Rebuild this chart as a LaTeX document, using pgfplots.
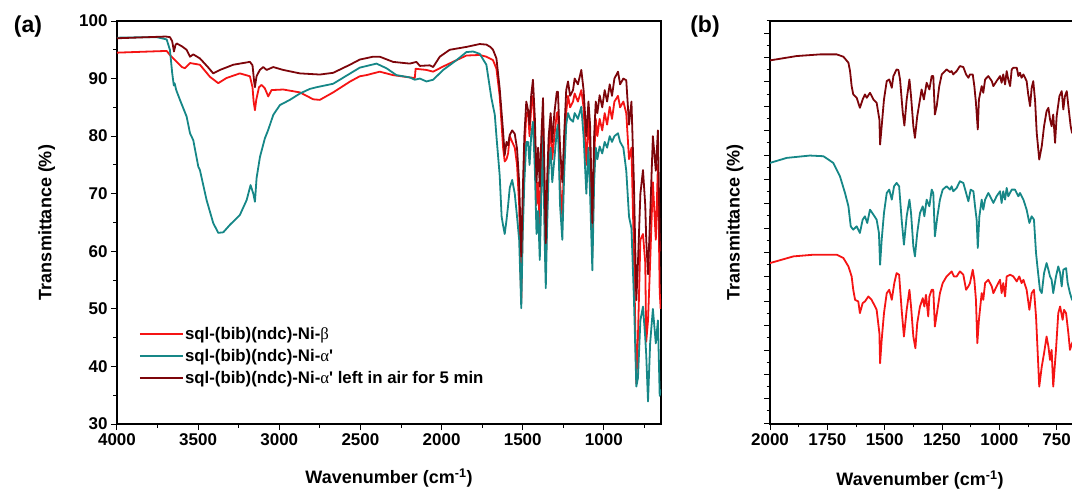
\documentclass[border=0pt]{standalone}
\usepackage{fontspec}
\setmainfont{Liberation Sans}
\newfontfamily\greek{Liberation Serif}
\usepackage{pgfplots}
\pgfplotsset{compat=1.18}
\definecolor{cred}{RGB}{245,20,20}
\definecolor{cteal}{RGB}{22,135,135}
\definecolor{cmaroon}{RGB}{125,5,10}
\pgfplotsset{
  myaxis/.style={
    scale only axis,
    x dir=reverse,
    axis line style={line width=1.2bp},
    tick style={line width=1bp, black},
    tick align=outside,
    major tick length=6bp,
    minor tick length=3.5bp,
    xtick pos=left, ytick pos=left,
    tick label style={font=\fontsize{17bp}{17bp}\selectfont\bfseries},
    label style={font=\fontsize{18bp}{18bp}\selectfont\bfseries},
    /pgf/number format/assume math mode=true,
    /pgf/number format/1000 sep={},
    every axis plot/.append style={line width=1.8bp, no markers, line join=round},
  }
}
\begin{document}
\begin{tikzpicture}
\useasboundingbox (0,0) rectangle (1072bp,492bp);
% ---------------- panel (a)
\begin{axis}[myaxis,
  at={(117bp,68bp)}, anchor=south west,
  width=544bp, height=403bp,
  xmin=648, xmax=4000, ymin=30, ymax=100,
  xtick={1000,1500,...,4000}, minor xtick={750,1250,...,3750},
  ytick={30,40,...,100}, minor ytick={35,45,...,95},
  xlabel={Wavenumber (cm\textsuperscript{-1})},
  ylabel={Transmittance (\%)},
  xlabel style={at={(axis description cs:0.5,-0.134)}, anchor=center},
  ylabel style={at={(axis description cs:-0.129,0.5)}, anchor=center},
  legend style={at={(axis description cs:0.04,0.245)}, anchor=north west, draw=none, fill=none,
    font=\fontsize{16.8bp}{16.8bp}\selectfont\bfseries, row sep=5.3bp, inner sep=0pt,
    nodes={inner sep=1.5bp}},
  legend cell align=left,
  legend image code/.code={\draw[#1, line width=1.6bp] (0bp,0bp) -- (43bp,0bp);},
]
\addplot[cred] coordinates {
(4000,94.5)(3800,94.7)(3694,94.8)(3674,94.1)(3632,92.9)(3600,92.0)(3581,91.8)(3550,92.7)(3489,92.4)
(3427,90.3)(3376,89.2)(3325,90.1)(3243,90.9)(3181,90.4)(3165,88.5)(3158,86.0)(3150,84.5)(3142,86.3)
(3125,88.5)(3109,88.9)(3089,88.3)(3068,86.9)(3048,88.0)(2976,88.1)(2873,87.6)(2791,86.4)(2750,86.3)
(2668,87.6)(2563,89.5)(2504,90.4)(2463,90.6)(2381,91.2)(2299,90.6)(2196,90.2)(2165,90.1)(2160,91.7)
(2093,91.5)(2052,91.2)(1990,92.1)(1908,93.2)(1847,94.0)(1765,94.1)(1724,93.8)(1683,93.2)(1662,91.7)
(1642,87)(1630,82)(1621,78)(1611,75.6)(1600,76)(1590,77)(1580,80)(1565,79)(1549,78)(1535,75)(1522,68)
(1509,51)(1500,66)(1490,77)(1478,84)(1467,84.2)(1458,80)(1448,85)(1437,87)(1425,80)(1415,68)(1405,72)
(1395,64)(1385,76)(1375,83)(1365,68)(1358,57)(1350,68)(1340,77)(1328,82)(1318,76)(1305,80)(1290,84)
(1283,84.2)(1270,72)(1256,66)(1245,76)(1232,84.2)(1221,87)(1208,85)(1190,86)(1180,87.4)(1160,86)
(1139,88)(1125,85)(1108,75)(1095,83)(1085,78)(1071,60)(1060,76)(1050,83)(1040,80)(1026,83)(1010,81)
(995,84)(980,82)(964,85.1)(950,83)(935,86)(913,87)(900,85)(880,86)(862,84)(845,76)(830,78)(815,60)
(800,37)(790,45)(775,62)(759,63)(745,58)(739,44.3)(728,48)(715,58)(698,72)(680,62)(667,75)(656,53)(650,50)
};
\addlegendentry{sql-(bib)(ndc)-Ni-{\greek\mdseries β}}
\addplot[cteal] coordinates {
(4000,97.1)(3800,97.2)(3756,97.2)(3694,96.8)(3674,95.0)(3660,91)(3650,88.8)(3645,89.2)(3635,88)
(3612,86.3)(3571,83.4)(3550,80.5)(3530,79.3)(3499,74.7)(3489,74.1)(3448,68.9)(3407,64.9)(3376,63.2)
(3345,63.3)(3304,64.6)(3243,66.3)(3201,68.9)(3177,71.5)(3160,70)(3150,68.6)(3140,72.7)(3119,76.4)
(3089,79.6)(3068,81.1)(3037,83.7)(2996,85.4)(2935,86.3)(2873,87.4)(2812,88.2)(2770,88.5)(2668,89.1)
(2504,91.9)(2401,92.6)(2340,91.8)(2278,90.6)(2196,90.2)(2165,89.8)(2134,90.0)(2093,89.5)(2052,89.8)
(1990,91.5)(1908,93.2)(1847,94.6)(1806,94.7)(1765,94.3)(1724,92.4)(1693,86.6)(1672,83.7)(1662,80)
(1642,73.2)(1630,66)(1621,64.5)(1611,63)(1600,65.4)(1590,68)(1580,71)(1565,72.4)(1549,70)(1535,66)
(1522,62)(1509,50.1)(1500,63)(1490,72)(1478,79)(1467,79.0)(1458,75)(1448,80)(1437,82.5)(1425,74)
(1415,63)(1405,67)(1395,58.5)(1385,70)(1375,80)(1365,62)(1358,53.6)(1350,64)(1340,74)(1328,78)
(1318,72)(1305,76)(1290,81)(1283,82)(1270,68)(1256,62)(1245,73)(1232,82)(1221,84)(1208,83)(1190,82.5)
(1180,84)(1160,83)(1139,85.1)(1125,80)(1108,70)(1095,78)(1085,70)(1071,56.7)(1060,72)(1050,78)
(1040,76)(1026,78.2)(1010,77)(995,79)(980,78)(964,80)(950,79)(935,80)(913,80.5)(900,79)(880,78)
(862,74)(845,66)(830,64)(815,52)(800,36.5)(790,38)(775,48)(759,50.4)(745,45)(739,42)(728,33.9)
(715,44)(698,50)(680,44)(667,48)(656,34.9)(650,36)
};
\addlegendentry{sql-(bib)(ndc)-Ni-{\greek\mdseries α}\textquotesingle}
\addplot[cmaroon] coordinates {
(4000,97.0)(3900,97.1)(3800,97.2)(3700,97.3)(3674,97.2)(3660,96.5)(3649,94.7)(3640,95.8)(3632,96.1)
(3600,95.6)(3571,95.0)(3550,93.8)(3530,94.2)(3489,93.5)(3440,92.0)(3407,90.9)(3366,91.5)(3320,92.0)
(3284,92.4)(3181,92.9)(3165,92.3)(3155,89.5)(3150,88.5)(3145,89.5)(3140,90.4)(3120,91.5)(3099,92.0)
(3078,91.5)(3037,92.0)(2976,91.5)(2873,90.9)(2750,90.7)(2668,91.0)(2565,92.4)(2504,93.3)(2422,93.8)
(2381,93.8)(2299,92.9)(2196,92.6)(2155,92.9)(2134,92.2)(2073,92.3)(2052,92.0)(2011,93.8)(1950,95.0)
(1847,95.5)(1765,96.0)(1724,95.9)(1700,95.5)(1683,95.0)(1662,93.5)
(1642,88.3)(1630,84)(1621,80.8)(1611,76.7)(1600,79)(1590,78.4)(1580,80.2)(1565,81)(1549,80.4)
(1535,77.8)(1522,72)(1509,59.1)(1500,70)(1490,80)(1478,86.0)(1467,84.5)(1458,82)(1448,87)(1437,89.8)
(1425,83)(1415,72)(1405,78)(1395,71.2)(1385,80)(1375,86.6)(1365,72)(1358,61.4)(1350,72)(1340,80)
(1328,84)(1318,79)(1305,84)(1290,87.7)(1283,87.7)(1270,78)(1256,72)(1245,80)(1232,88)(1221,89.5)
(1208,87)(1190,88)(1180,90)(1160,89)(1139,91.5)(1125,88)(1108,80)(1095,86)(1085,82)(1071,64.9)
(1060,80)(1050,86)(1040,84)(1026,87.1)(1010,85)(995,88)(980,86)(964,89)(950,87)(935,90)(913,91.2)
(900,89)(880,90)(862,89.7)(845,82)(830,86)(815,72)(800,51.5)(790,58)(775,70)(759,74.1)(745,68)
(739,62)(728,56)(715,66)(698,80)(680,74)(667,81)(656,62)(650,60)
};
\addlegendentry{sql-(bib)(ndc)-Ni-{\greek\mdseries α}\textquotesingle{} left in air for 5 min}
\end{axis}
% ---------------- panel (b)
\begin{axis}[myaxis,
  at={(770bp,68bp)}, anchor=south west,
  width=309.6bp, height=403bp,
  xmin=650, xmax=2000, ymin=0, ymax=1207,
  xtick={750,1000,...,2000}, minor xtick={875,1125,...,1875},
  ytick={2.5,75.5,...,1207}, minor ytick={39,112,...,1207},
  yticklabels={},
  xlabel={Wavenumber (cm\textsuperscript{-1})},
  ylabel={Transmittance (\%)},
  xlabel style={at={(axis description cs:0.4845,-0.139)}, anchor=center},
  ylabel style={at={(axis description cs:-0.113,0.5)}, anchor=center},
]
\addplot[cmaroon] coordinates {
(2000,1089)(1884,1102)(1782,1107)(1709,1107)(1680,1100)(1658,1082)(1651,1057)(1644,1012)(1637,987)
(1622,977)(1608,947)(1596,972)(1586,987)(1578,977)(1564,992)(1549,972)(1535,962)(1523,912)(1520,837)
(1513,892)(1503,972)(1491,1027)(1480,1032)(1469,1007)(1462,1042)(1448,1062)(1440,1060)(1433,1032)
(1421,932)(1414,894)(1404,972)(1392,1032)(1385,982)(1375,892)(1368,857)(1358,922)(1346,972)(1339,1002)
(1329,972)(1317,1022)(1305,1002)(1295,1042)(1288,1042)(1281,927)(1273,952)(1262,1012)(1251,1047)
(1237,1057)(1230,1062)(1215,1054)(1208,1057)(1201,1047)(1186,1057)(1172,1072)(1157,1069)(1145,1047)
(1135,1037)(1128,1047)(1116,1047)(1109,1012)(1102,962)(1094,882)(1089,972)(1077,1012)(1070,992)
(1062,1032)(1048,1042)(1033,1027)(1026,1012)(1012,1027)(997,1042)(990,1022)(983,1047)(975,1017)
(968,1057)(961,1032)(953,1012)(946,1062)(939,1067)(924,1067)(917,1042)(910,1052)(903,1037)(895,1047)
(881,1027)(874,987)(866,952)(859,1007)(852,1027)(844,967)(837,872)(826,792)(815,832)(805,892)(794,937)
(786,947)(779,912)(772,892)(765,927)(757,842)(750,922)(738,982)(728,997)(721,942)(714,982)(706,997)
(699,952)(689,892)(683,872)(670,900)(660,920)(650,900)
};
\addplot[cteal] coordinates {
(2000,782)(1927,797)(1826,804)(1767,802)(1724,782)(1695,742)(1673,692)(1658,652)(1648,592)(1637,582)
(1622,592)(1608,572)(1596,612)(1586,622)(1576,602)(1564,642)(1549,627)(1535,612)(1525,572)(1520,477)
(1513,552)(1503,632)(1491,692)(1480,702)(1469,672)(1459,712)(1448,722)(1437,712)(1426,612)(1416,537)
(1404,622)(1392,672)(1385,632)(1375,532)(1368,502)(1358,572)(1346,632)(1334,652)(1327,622)(1317,672)
(1305,652)(1295,702)(1288,692)(1281,562)(1270,622)(1259,672)(1247,702)(1230,712)(1215,702)(1208,712)
(1201,697)(1186,707)(1172,727)(1157,722)(1145,692)(1135,667)(1125,702)(1113,697)(1106,652)(1099,612)
(1094,527)(1087,622)(1077,672)(1070,642)(1062,672)(1048,692)(1033,672)(1026,662)(1012,682)(997,697)
(990,662)(983,697)(975,672)(968,707)(961,682)(946,702)(932,702)(917,682)(910,692)(895,672)(881,642)
(869,602)(859,622)(849,612)(840,512)(834,472)(823,402)(815,392)(805,452)(794,482)(786,462)(779,442)
(772,432)(765,392)(753,442)(743,472)(735,452)(728,412)(721,462)(709,467)(702,422)(692,392)(683,372)
(670,380)(660,360)(650,370)
};
\addplot[cred] coordinates {
(2000,482)(1898,502)(1811,507)(1709,507)(1680,497)(1658,472)(1644,442)(1637,402)(1629,372)(1615,367)
(1608,332)(1596,362)(1586,367)(1571,382)(1557,372)(1542,352)(1535,342)(1523,272)(1520,182)(1513,252)
(1503,332)(1491,392)(1480,402)(1469,372)(1458,422)(1448,452)(1437,447)(1426,342)(1416,262)(1404,342)
(1392,402)(1385,352)(1375,262)(1366,227)(1358,302)(1346,352)(1334,377)(1327,352)(1320,387)(1310,322)
(1305,382)(1295,402)(1288,402)(1281,292)(1270,342)(1259,392)(1247,422)(1230,442)(1215,452)(1208,457)
(1198,442)(1186,442)(1172,457)(1157,447)(1145,402)(1135,412)(1128,422)(1116,462)(1109,432)(1102,372)
(1096,242)(1089,312)(1077,392)(1070,372)(1062,422)(1048,432)(1033,412)(1026,392)(1012,412)(997,432)
(990,392)(983,422)(975,382)(968,442)(953,447)(939,442)(924,427)(913,442)(903,422)(895,432)(881,402)
(869,342)(859,392)(849,402)(840,322)(834,232)(826,112)(815,172)(805,212)(794,262)(786,232)(779,192)
(772,222)(765,112)(753,222)(743,332)(735,352)(724,312)(718,342)(709,332)(699,272)(692,222)(683,242)
(670,260)(660,240)(650,250)
};
\end{axis}
\node[font=\fontsize{23bp}{23bp}\selectfont\bfseries] at (28bp,465bp) {(a)};
\node[font=\fontsize{23bp}{23bp}\selectfont\bfseries] at (705bp,465bp) {(b)};
\end{tikzpicture}
\end{document}
